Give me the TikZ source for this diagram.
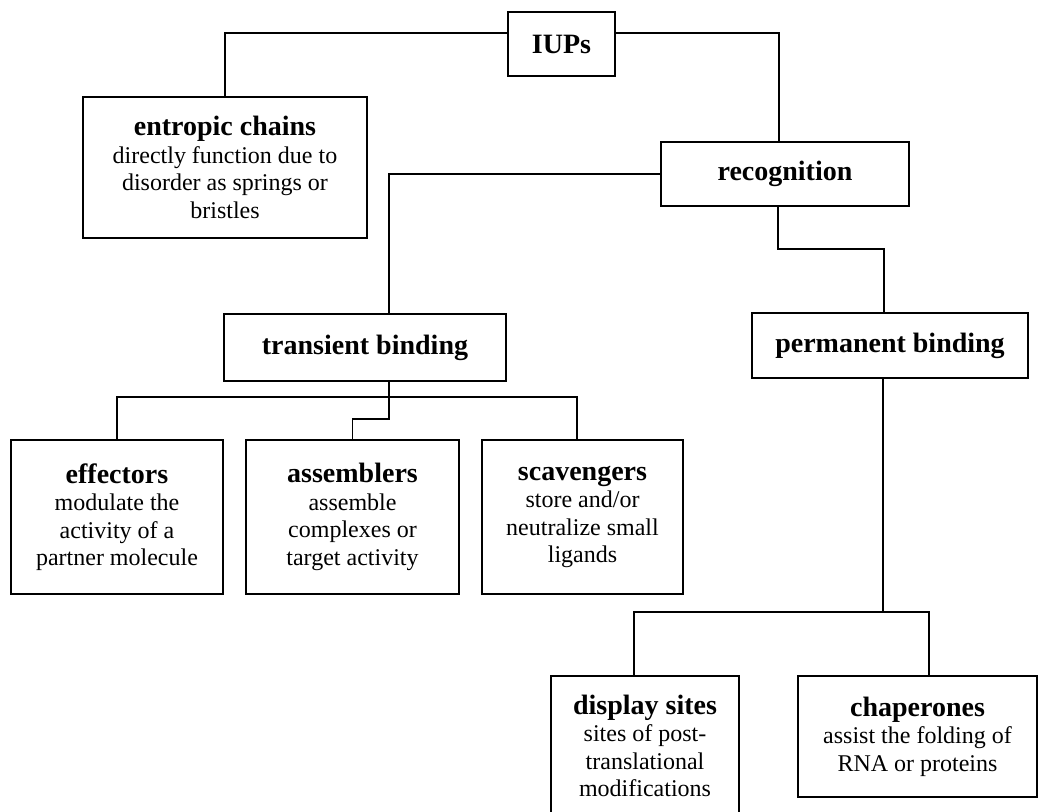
\documentclass[tikz,border=0pt]{standalone}
\usepackage{fontspec}
\setmainfont{Liberation Serif}
\usepackage{tikz}
\usetikzlibrary{positioning}
\tikzset{box/.style = {draw, line width = 0.8pt, inner sep = 0, align = center,
    font = \fontsize{12}{13.75}\selectfont}}
\tikzset{link/.style = {line width = 0.8pt}}
\newcommand{\boxtitle}[1]{{\fontsize{14}{16}\selectfont\bfseries #1}}

\begin{document}
\begin{tikzpicture}[x=0.5pt, y=-0.5pt]
          \useasboundingbox (0, 0) rectangle (1039, 812);
          \clip (0, 0) rectangle (1039, 812);

          \node [box, minimum width = 53.5pt, minimum height = 32pt] (iups) at (561.5, 44) {\boxtitle{IUPs}};
          \node [box, minimum width = 142pt, minimum height = 70.5pt] (entropic) at (225, 167.5)
            {\boxtitle{entropic chains}\\ directly function due to\\ disorder as springs or\\ bristles};
          \node [box, minimum width = 124pt, minimum height = 32pt] (recog) at (785, 174) {\boxtitle{recognition}};

          \node [box, minimum width = 141pt, minimum height = 33.5pt] (transient) at (365, 347.5) {\boxtitle{transient binding}};
          \node [box, minimum width = 138pt, minimum height = 32.5pt] (perm) at (890, 345.5) {\boxtitle{permanent binding}};

          \node [box, minimum width = 106pt, minimum height = 77pt] (effectors) at (117, 517)
            {\boxtitle{effectors}\\ modulate the\\ activity of a\\ partner molecule};
          \node [box, minimum width = 106.5pt, minimum height = 77pt] (assem) at (352.5, 517)
            {\boxtitle{assemblers}\\ assemble\\ complexes or\\ target activity};
          \node [box, minimum width = 100.5pt, minimum height = 77pt] (scav) at (582.5, 517)
            {\boxtitle{scavengers}\\ store and/or\\ neutralize small\\ ligands};

          \node [box, minimum width = 94pt, minimum height = 70pt] (disp) at (645, 746)
            {\boxtitle{display sites}\\ sites of post-\\ translational\\ modifications};
          \node [box, minimum width = 119.5pt, minimum height = 60.5pt] (chap) at (917.5, 736.5)
            {\boxtitle{chaperones}\\ assist the folding of\\ RNA or proteins};

          \coordinate (tb) at (389, 397);
          \coordinate (pb) at (883, 612);

          \draw [link] ([yshift = 5.5pt] iups.west) -| (entropic.north);
          \draw [link] ([yshift = 5.5pt] iups.east) -| ([xshift = -3pt] recog.north);
          \draw [link] (recog.west) -| ([xshift = 12pt] transient.north);
          \draw [link] ([xshift = -3.5pt] recog.south) -- ++(0, 42) -| ([xshift = -3pt] perm.north);

          \draw [link] ([xshift = 12pt] transient.south) -- (tb) -- ++(0, 22) -| (assem.north);
          \draw [link] (effectors.north) |- (tb) -| ([xshift = -2.75pt] scav.north);

          \draw [link] ([xshift = -3.5pt] perm.south) -- (pb);
          \draw [link] ([xshift = -5.5pt] disp.north) |- (pb) -| ([xshift = 5.75pt] chap.north);
        \end{tikzpicture}
\end{document}
